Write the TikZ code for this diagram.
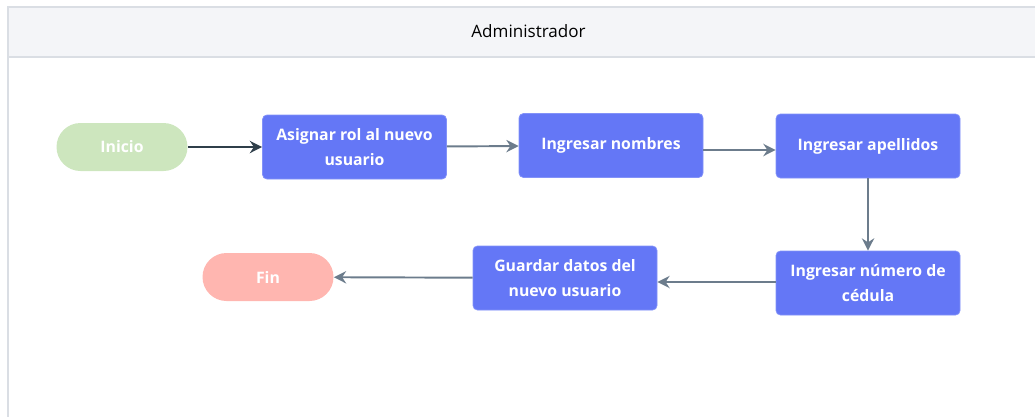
\documentclass[tikz,border=0pt]{standalone}
\usepackage{fontspec}
\setmainfont{Open Sans}
\usetikzlibrary{arrows.meta}
\definecolor{paso}{RGB}{100,119,246}
\definecolor{inicio}{RGB}{205,230,190}
\definecolor{fin}{RGB}{255,182,176}
\definecolor{linea}{RGB}{108,124,140}
\definecolor{oscura}{RGB}{47,63,74}
\definecolor{cabecera}{RGB}{244,245,248}
\definecolor{borde}{RGB}{218,222,228}
\begin{document}
\begin{tikzpicture} [
	paso/.style = {draw = paso!80!white, fill = paso, rounded corners = 2.5pt, text = white, font = \bfseries\fontsize{9}{14.5}\selectfont, align = center, minimum width = 3.68cm, minimum height = 1.28cm, inner sep = 1pt},
	terminal/.style = {rounded corners = 0.48cm, text = white, font = \bfseries\fontsize{9}{14.5}\selectfont, minimum width = 2.62cm, minimum height = 0.96cm},
	flecha/.style = {linea, line width = 1.1pt, -{Stealth[length = 7pt, width = 7pt]}}
	]
	\useasboundingbox (0,0) rectangle (20.7,-8.34);
	\fill [cabecera] (0.16,-0.14) rectangle (20.7,-1.14);
	\draw [borde, line width = 0.8pt] (20.7,-0.14) -- (0.16,-0.14) -- (0.16,-8.34);
	\draw [borde, line width = 0.8pt] (0.16,-1.14) -- (20.7,-1.14);
	\node (carril) at (10.57,-0.63) {\fontsize{9.7}{11}\selectfont Administrador};
	\node [terminal, fill = inicio] (inicio) at (2.44,-2.94) {Inicio};
	\node [paso] (asignar) at (7.09,-2.94) {Asignar rol al nuevo\\usuario};
	\node [paso] (nombres) at (12.22,-2.91) {Ingresar nombres};
	\node [paso] (apellidos) at (17.36,-2.92) {Ingresar apellidos};
	\node [paso] (cedula) at (17.36,-5.66) {Ingresar número de\\cédula};
	\node [paso] (guardar) at (11.3,-5.56) {Guardar datos del\\nuevo usuario};
	\node [terminal, fill = fin] (fin) at (5.36,-5.54) {Fin};
	\draw [flecha, oscura, line width = 1.5pt] (inicio) -- (asignar);
	\draw [flecha] (asignar) -- (nombres);
	\draw [flecha] (nombres.east |- 0,-3.0) -- (apellidos.west |- 0,-3.0);
	\draw [flecha] (apellidos) -- (cedula);
	\draw [flecha] (cedula.west |- 0,-5.64) -- (guardar.east |- 0,-5.64);
	\draw [flecha] (guardar) -- (fin);
\end{tikzpicture}
\end{document}
